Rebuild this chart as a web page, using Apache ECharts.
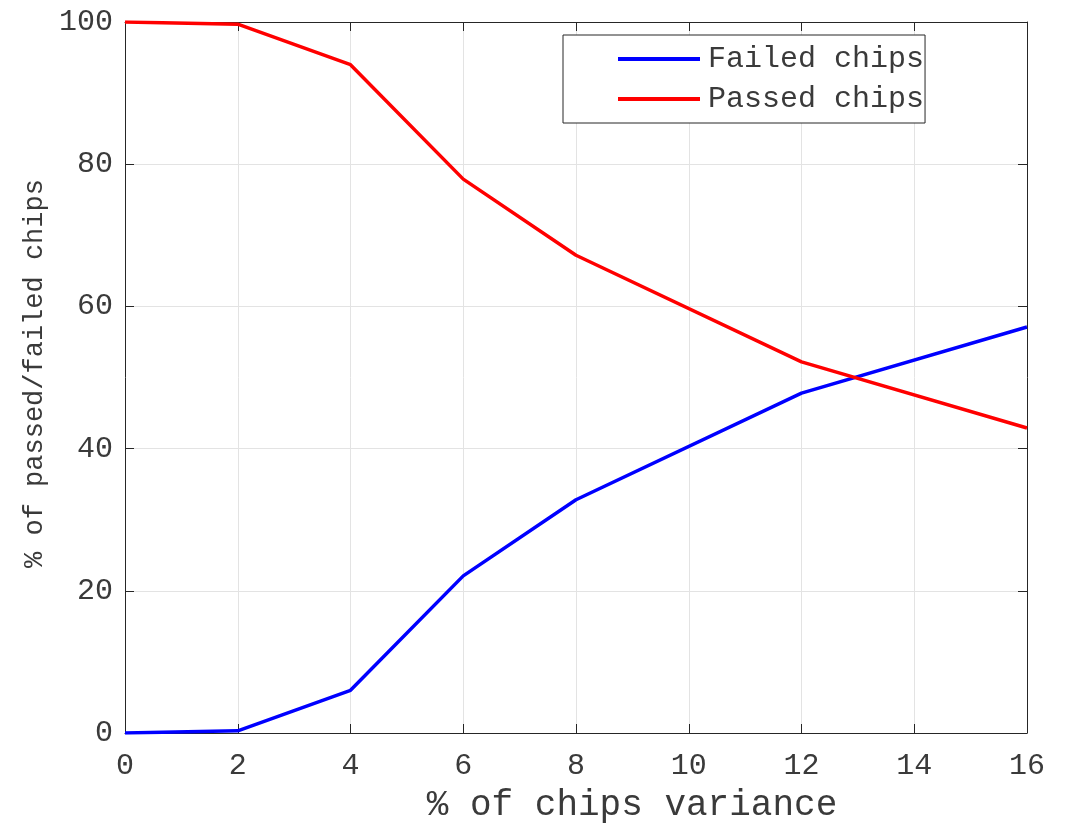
<!DOCTYPE html>
<html>
<head>
<meta charset="utf-8">
<script src="https://cdn.jsdelivr.net/npm/echarts@6/dist/echarts.min.js"></script>
<style>
html,body{margin:0;padding:0;background:#fff;}
#chart{width:1065px;height:823px;}
</style>
</head>
<body>
<div id="chart"></div>
<script>
const xValues = [0, 2, 4, 6, 8, 12, 16];
const failedChips = [0, 0.3, 6.0, 22.1, 32.8, 47.8, 57.1];
const passedChips = [100, 99.7, 94.0, 77.9, 67.2, 52.2, 42.9];
const xTicks = [0, 2, 4, 6, 8, 10, 12, 14, 16];
const yTicks = [0, 20, 40, 60, 80, 100];

const FONT = 'Liberation Mono';
const TXT = '#262626';
const LABEL = '#3a3a3a';

const chart = echarts.init(document.getElementById('chart'), null, {renderer: 'canvas'});
const pairs = (ys) => xValues.map((x, i) => [x, ys[i]]);

const axisCommon = {
  axisLine: {show: true, onZero: false, lineStyle: {color: TXT, width: 1}},
  axisTick: {show: true, inside: true, length: 9, lineStyle: {color: TXT, width: 1}},
};

chart.setOption({
  backgroundColor: '#fff',
  animation: false,
  grid: {left: 125, right: 38, top: 22, bottom: 90, containLabel: false, outerBoundsMode: 'none'},
  legend: {
    orient: 'vertical',
    left: 563,
    top: 35,
    padding: [9, 1, 9, 55],
    itemGap: 10,
    itemWidth: 82,
    itemHeight: 4,
    icon: 'rect',
    borderColor: TXT,
    borderWidth: 1,
    backgroundColor: '#fff',
    textStyle: {fontFamily: FONT, fontSize: 30, color: LABEL, padding: [0, 0, 0, 3]},
    data: ['Failed chips', 'Passed chips']
  },
  xAxis: [
    Object.assign({
      type: 'value', min: 0, max: 16, interval: 2, position: 'bottom',
      name: '% of chips variance', nameLocation: 'middle', nameGap: 54,
      nameTextStyle: {fontFamily: FONT, fontSize: 36, color: LABEL, padding: [0, 0, 0, 112]},
      axisLabel: {fontFamily: FONT, fontSize: 30, color: LABEL, margin: 18,
        formatter: (v) => xTicks.includes(v) ? String(v) : ''},
      splitLine: {show: true, lineStyle: {color: '#e3e3e3', width: 1}}
    }, axisCommon),
    Object.assign({
      type: 'value', min: 0, max: 16, interval: 2, position: 'top',
      axisLabel: {show: false}, splitLine: {show: false}
    }, axisCommon)
  ],
  yAxis: [
    Object.assign({
      type: 'value', min: 0, max: 100, interval: 20, position: 'left',
      name: '% of passed/failed chips', nameLocation: 'middle', nameGap: 76,
      nameTextStyle: {fontFamily: FONT, fontSize: 27, color: LABEL, padding: [0, 0, 0, 8]},
      axisLabel: {fontFamily: FONT, fontSize: 30, color: LABEL, margin: 12,
        formatter: (v) => yTicks.includes(v) ? String(v) : ''},
      splitLine: {show: true, lineStyle: {color: '#e3e3e3', width: 1}}
    }, axisCommon),
    Object.assign({
      type: 'value', min: 0, max: 100, interval: 20, position: 'right',
      axisLabel: {show: false}, splitLine: {show: false}
    }, axisCommon)
  ],
  series: [
    {
      name: 'Failed chips', type: 'line', xAxisIndex: 0, yAxisIndex: 0,
      data: pairs(failedChips), showSymbol: false, symbol: 'none',
      lineStyle: {color: '#0000ff', width: 3.5}, itemStyle: {color: '#0000ff'}, z: 3
    },
    {
      name: 'Passed chips', type: 'line', xAxisIndex: 0, yAxisIndex: 0,
      data: pairs(passedChips), showSymbol: false, symbol: 'none',
      lineStyle: {color: '#ff0000', width: 3.5}, itemStyle: {color: '#ff0000'}, z: 4
    }
  ]
});
</script>
</body>
</html>
